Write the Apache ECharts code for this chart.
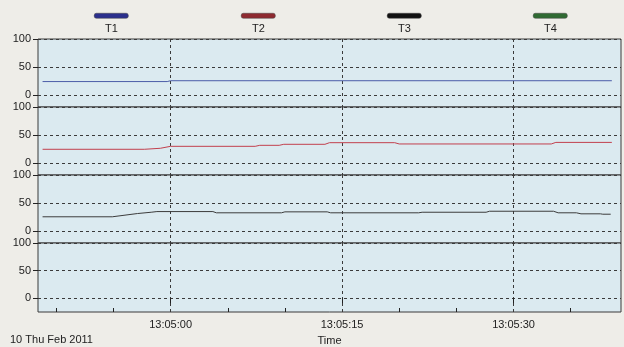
<!DOCTYPE html>
<html>
<head>
<meta charset="utf-8">
<script src="https://cdn.jsdelivr.net/npm/echarts@6/dist/echarts.min.js"></script>
<style>
  html, body { margin: 0; padding: 0; background: #eeede8; }
  #chart { width: 624px; height: 347px; }
</style>
</head>
<body>
<div id="chart"></div>
<script>
// Channel names and colours
const seriesNames = ['T1', 'T2', 'T3', 'T4'];
const lineColors = ['#4b5ca8', '#c2404e', '#3c3c3c', '#3d7a3d'];
const legendColors = ['#2b2f8c', '#8e2a30', '#111111', '#2f6a32'];

// Temperature readings per channel (clock time, value)
const t1Times = ['13:04:48.8', '13:04:59.7', '13:05:00.0', '13:05:38.6'];
const t1Values = [24, 24, 25.5, 25.5];

const t2Times = ['13:04:48.8', '13:04:57.7', '13:04:59.1', '13:05:00.0', '13:05:07.4', '13:05:07.8',
                 '13:05:09.5', '13:05:09.9', '13:05:13.5', '13:05:13.9', '13:05:19.6', '13:05:20.0',
                 '13:05:33.3', '13:05:33.7', '13:05:38.6'];
const t2Values = [24.5, 24.5, 26.3, 29.8, 29.8, 31.6, 31.6, 33.4, 33.4, 36.3, 36.3, 34.0, 34.0, 36.8, 36.8];

const t3Times = ['13:04:48.8', '13:04:54.9', '13:04:57.1', '13:04:58.3', '13:04:58.8', '13:05:03.7',
                 '13:05:04.0', '13:05:09.7', '13:05:10.0', '13:05:13.7', '13:05:14.0', '13:05:21.7',
                 '13:05:22.0', '13:05:27.6', '13:05:27.9', '13:05:33.5', '13:05:33.9', '13:05:35.5',
                 '13:05:35.9', '13:05:37.6', '13:05:37.8', '13:05:38.5'];
const t3Values = [25.4, 25.4, 31.2, 33.5, 34.7, 34.7, 32.5, 32.5, 34.2, 34.2, 32.5, 32.5,
                  33.5, 33.5, 35.3, 35.3, 32.5, 32.5, 30.7, 30.7, 30.0, 30.0];

const t4Times = [];
const t4Values = [];

// Axis ticks
const majorTicks = ['13:05:00', '13:05:15', '13:05:30'];
const minorTicks = ['13:04:50', '13:04:55', '13:05:05', '13:05:10', '13:05:20', '13:05:25', '13:05:35'];
const yTicks = [0, 50, 100];
const xStart = '13:04:48.4';
const xEnd = '13:05:39.4';
const dateLabel = '10 Thu Feb 2011';
const xName = 'Time';

const toSec = s => {
  const p = s.split(':').map(Number);
  return p[0] * 3600 + p[1] * 60 + p[2];
};
const pad = n => String(n).padStart(2, '0');
const fmtClock = v => {
  const s = Math.round(v);
  return pad(Math.floor(s / 3600)) + ':' + pad(Math.floor(s / 60) % 60) + ':' + pad(s % 60);
};

const allTimes = [t1Times, t2Times, t3Times, t4Times];
const allValues = [t1Values, t2Values, t3Values, t4Values];

// Panel layout: four stacked strips
const tops = [39, 107, 175, 243];
const heights = [68, 68, 68, 70];
const yMins = [-21.4, -21.4, -21.4, -25];

const font = 'Liberation Sans, Arial, sans-serif';
const dashStyle = { color: '#3a3a3a', width: 1, type: [3, 3] };

const grids = [], xAxes = [], yAxes = [], series = [];
for (let i = 0; i < 4; i++) {
  const last = i === 3;
  grids.push({
    left: 38, width: 583, top: tops[i], height: heights[i],
    show: true, backgroundColor: '#dbeaf0', borderColor: '#3a3a3a', borderWidth: 1
  });
  xAxes.push({
    type: 'value', gridIndex: i,
    min: toSec(xStart), max: toSec(xEnd),
    axisLine: { show: false },
    axisTick: { show: last, customValues: majorTicks.map(toSec), length: 5, lineStyle: { color: '#222' } },
    axisLabel: {
      show: last, customValues: majorTicks.map(toSec), formatter: fmtClock,
      margin: 7, fontSize: 11, fontFamily: font, color: '#222'
    },
    splitLine: { show: true, lineStyle: dashStyle },
    name: last ? xName : '', nameLocation: 'middle', nameGap: 23,
    nameTextStyle: { fontSize: 11, fontFamily: font, color: '#222' }
  });
  yAxes.push({
    type: 'value', gridIndex: i, min: yMins[i], max: 100,
    axisLine: { show: false },
    axisTick: { show: true, customValues: yTicks, length: 5, lineStyle: { color: '#222' } },
    axisLabel: { customValues: yTicks, margin: 7, fontSize: 11, fontFamily: font, color: '#222' },
    splitLine: { show: true, lineStyle: dashStyle }
  });
  series.push({
    name: seriesNames[i], type: 'line', xAxisIndex: i, yAxisIndex: i,
    data: allTimes[i].map((t, k) => [toSec(t), allValues[i][k]]),
    showSymbol: false, symbol: 'none',
    lineStyle: { color: lineColors[i], width: 1 },
    itemStyle: { color: lineColors[i] },
    animation: false
  });
}

// Minor ticks along the bottom axis, pointing inward
xAxes.push({
  type: 'value', gridIndex: 3, position: 'bottom',
  min: toSec(xStart), max: toSec(xEnd),
  axisLine: { show: false },
  axisTick: { show: true, inside: true, customValues: minorTicks.map(toSec), length: 4, lineStyle: { color: '#222' } },
  axisLabel: { show: false },
  splitLine: { show: false }
});

// Legend: swatch above the channel name
const legendCenters = [111, 258, 404, 550];
const graphic = [];
seriesNames.forEach((name, i) => {
  graphic.push({
    type: 'rect', left: legendCenters[i] - 17, top: 13,
    shape: { width: 34, height: 5, r: 2 },
    style: { fill: legendColors[i], stroke: '#444', lineWidth: 0.5 }
  });
  graphic.push({
    type: 'text', left: legendCenters[i] - 6, top: 23,
    style: { text: name, fontSize: 11, fontFamily: font, fill: '#222' }
  });
});
graphic.push({
  type: 'text', left: 10, top: 334,
  style: { text: dateLabel, fontSize: 11, fontFamily: font, fill: '#222' }
});

const chart = echarts.init(document.getElementById('chart'));
chart.setOption({
  backgroundColor: '#eeede8',
  animation: false,
  grid: grids,
  xAxis: xAxes,
  yAxis: yAxes,
  series: series,
  graphic: graphic
});
</script>
</body>
</html>
